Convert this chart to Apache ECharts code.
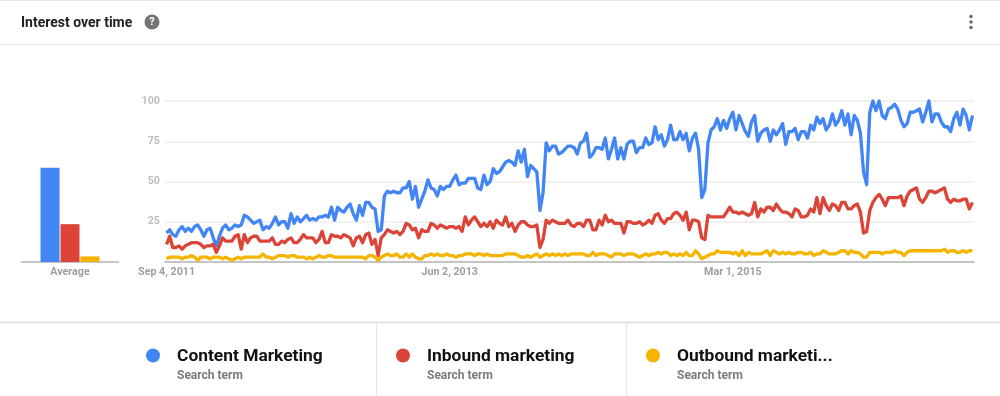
<!DOCTYPE html>
<html>
<head>
<meta charset="utf-8">
<title>Interest over time</title>
<script src="https://cdn.jsdelivr.net/npm/echarts@6/dist/echarts.min.js"></script>
<style>
  html, body { margin: 0; padding: 0; background: #fff; }
  #chart { width: 1000px; height: 396px; }
</style>
</head>
<body>
<div id="chart"></div>
<script>
// weekly values
const contentMarketing = [
  18,20,17,16,20,22,19,21,19,22,
  23,20,16,20,21,15,10,16,21,23,
  20,21,23,22,23,29,28,26,24,25,
  26,20,22,21,24,28,23,25,25,21,
  30,24,28,25,27,29,26,27,26,28,
  28,29,28,34,26,34,32,31,34,36,
  30,26,35,29,37,37,34,33,19,20,
  41,44,43,44,43,43,46,46,50,39,
  47,34,39,44,51,46,45,41,47,45,
  47,47,51,54,48,49,49,52,52,52,
  46,45,54,48,50,58,55,56,59,62,
  63,62,60,69,62,70,53,60,58,56,
  32,43,74,69,72,72,67,68,70,72,
  72,71,67,74,75,80,65,67,71,71,
  70,77,64,70,77,64,71,64,73,75,
  75,68,71,71,77,73,74,84,76,79,
  72,76,85,76,76,81,76,80,69,77,
  80,70,40,45,74,82,84,89,82,88,
  83,89,93,82,91,86,81,78,87,91,
  75,80,82,83,75,82,79,82,86,73,
  81,81,83,76,81,81,77,85,82,90,
  86,89,82,85,92,85,88,94,85,92,
  79,91,88,80,56,48,93,100,94,100,
  91,89,95,96,98,95,88,84,86,93,
  93,94,95,87,93,100,87,92,92,87,
  84,84,81,89,93,85,95,91,82,91
];
const inboundMarketing = [
  11,16,9,9,10,8,10,11,12,12,
  12,11,9,10,10,11,6,10,15,13,
  13,13,16,17,8,17,12,15,16,16,
  13,13,13,13,15,11,11,13,12,14,
  15,12,12,14,17,15,15,15,12,14,
  19,12,12,17,16,16,15,17,16,15,
  10,15,16,12,17,18,11,14,4,15,
  17,20,19,18,19,17,19,24,23,20,
  21,15,20,19,19,24,23,21,23,22,
  21,22,22,21,22,19,28,23,26,28,
  25,22,24,22,25,21,26,24,23,28,
  22,24,19,23,25,25,23,22,22,23,
  9,14,26,24,26,25,24,24,24,26,
  23,22,24,24,22,26,26,20,20,26,
  23,29,25,26,24,24,24,18,25,25,
  24,24,25,23,24,26,24,29,30,26,
  24,27,27,30,31,29,26,31,20,26,
  26,25,15,14,29,28,28,28,28,28,
  31,34,31,31,30,31,30,29,30,37,
  28,33,31,34,34,32,36,33,31,31,
  30,28,33,32,28,28,29,33,31,40,
  30,40,35,32,36,35,32,37,37,33,
  33,35,36,31,18,19,32,37,40,42,
  39,35,40,40,40,40,41,35,41,44,
  45,46,39,37,40,44,44,43,44,45,
  46,39,37,39,38,38,39,39,33,37
];
const outboundMarketing = [
  2,3,3,3,3,2,3,3,4,3,
  1,3,3,3,2,3,3,3,2,3,
  2,1,2,3,2,3,3,3,3,3,
  3,5,3,3,2,3,4,4,4,3,
  4,4,3,3,3,2,3,2,3,4,
  3,3,4,4,3,3,3,3,3,3,
  3,3,3,3,2,4,4,3,1,3,
  4,5,4,4,5,3,3,5,3,5,
  3,2,2,4,4,5,4,5,4,4,
  5,4,4,3,4,4,5,5,5,4,
  5,5,4,5,4,4,4,4,4,5,
  5,5,5,4,3,3,4,3,4,5,
  3,4,5,4,5,4,5,4,5,4,
  5,5,5,5,5,4,4,6,4,5,
  5,5,4,3,5,5,5,4,5,5,
  5,4,3,4,5,4,5,5,6,5,
  6,6,4,5,4,5,4,6,4,4,
  7,5,2,3,4,5,5,7,6,6,
  6,6,5,6,4,7,4,6,5,5,
  5,5,6,7,4,7,6,5,6,5,
  6,5,5,6,6,5,5,6,4,5,
  5,7,6,5,5,5,6,7,7,5,
  7,6,6,5,3,3,6,6,6,6,
  5,6,6,6,7,6,6,4,6,7,
  7,7,7,7,7,7,7,7,7,7,
  8,6,7,7,6,6,7,6,7,7
];
const termNames = ["Content Marketing", "Inbound marketing", "Outbound marketi..."];
const termAverages = [58.5, 23.5, 3.5];
const termColors = ["#4285f4", "#db4437", "#f4b400"];
const termSeries = [contentMarketing, inboundMarketing, outboundMarketing];
const yTicks = [25, 50, 75, 100];
const xLabelWeeks = [0, 91, 182]; // Sep 4, 2011 / Jun 2, 2013 / Mar 1, 2015

// one category per week from Sep 4, 2011
const monthNames = ["Jan","Feb","Mar","Apr","May","Jun","Jul","Aug","Sep","Oct","Nov","Dec"];
const weeks = contentMarketing.map(function(v, i) {
  let d = new Date(Date.UTC(2011, 8, 4 + i * 7));
  return monthNames[d.getUTCMonth()] + " " + d.getUTCDate() + ", " + d.getUTCFullYear();
});

const font = "Roboto";

let chart = echarts.init(document.getElementById("chart"), null, { renderer: "canvas" });

function hLine(x1, x2, y, color, width) {
  return { type: "line", silent: true, shape: { x1: x1, y1: y, x2: x2, y2: y }, style: { stroke: color, lineWidth: width } };
}
function vLine(x, y1, y2, color, width) {
  return { type: "line", silent: true, shape: { x1: x, y1: y1, x2: x, y2: y2 }, style: { stroke: color, lineWidth: width } };
}

// header and footer
let graphics = [
  hLine(0, 1000, 0.5, "#e6e6e6", 1),
  hLine(0, 1000, 44.5, "#e3e3e3", 1),
  { type: "text", style: { x: 21, y: 23, text: "Interest over time", font: "bold 14px " + font, fill: "#212121", textVerticalAlign: "middle" } },
  { type: "circle", shape: { cx: 152, cy: 22, r: 7.5 }, style: { fill: "#757575" } },
  { type: "text", style: { x: 152, y: 22.5, text: "?", font: "bold 11px " + font, fill: "#fff", textAlign: "center", textVerticalAlign: "middle" } },
  { type: "circle", shape: { cx: 971, cy: 16.5, r: 1.7 }, style: { fill: "#666" } },
  { type: "circle", shape: { cx: 971, cy: 22, r: 1.7 }, style: { fill: "#666" } },
  { type: "circle", shape: { cx: 971, cy: 27.5, r: 1.7 }, style: { fill: "#666" } },
  hLine(0, 1000, 322.5, "#dcdcdc", 1.5),
  vLine(376.5, 323, 396, "#e6e6e6", 1),
  vLine(626.5, 323, 396, "#e6e6e6", 1)
];
termNames.forEach(function(name, i) {
  let left = 153 + i * 250;
  graphics.push({ type: "circle", shape: { cx: left, cy: 355.5, r: 7 }, style: { fill: termColors[i] } });
  graphics.push({ type: "text", style: { x: left + 24, y: 356.5, text: name, font: "bold 17.4px " + font, fill: "#111", textVerticalAlign: "middle" } });
  graphics.push({ type: "text", style: { x: left + 24, y: 376, text: "Search term", font: "bold 12px " + font, fill: "#7b7b7b", textVerticalAlign: "middle" } });
});

let option = {
  animation: false,
  backgroundColor: "#fff",
  textStyle: { fontFamily: font },
  graphic: graphics,
  grid: [
    { left: 21.5, top: 101, width: 97, height: 161 },
    { left: 165, top: 101, width: 809, height: 161 }
  ],
  xAxis: [
    {
      type: "category",
      gridIndex: 0,
      data: ["Average"],
      axisTick: { show: false },
      axisLine: { lineStyle: { color: "#b5b5b5", width: 1.5 } },
      axisLabel: { color: "#9e9e9e", fontWeight: "bold", fontSize: 10.7, margin: 5, fontFamily: font }
    },
    {
      type: "category",
      gridIndex: 1,
      data: weeks,
      boundaryGap: true,
      axisTick: { show: false },
      axisLine: { lineStyle: { color: "#b5b5b5", width: 1.5 } },
      axisLabel: {
        color: "#9e9e9e",
        fontWeight: "bold",
        fontSize: 10.7,
        margin: 5,
        fontFamily: font,
        hideOverlap: false,
        interval: function(index) {
          return xLabelWeeks.indexOf(index) > -1;
        }
      }
    }
  ],
  yAxis: [
    { type: "value", gridIndex: 0, min: 0, max: 100, show: false },
    {
      type: "value",
      gridIndex: 1,
      min: 0,
      max: yTicks[yTicks.length - 1],
      interval: yTicks[0],
      axisLine: { show: false },
      axisTick: { show: false },
      splitLine: { lineStyle: { color: "#ececec", width: 1.5 } },
      axisLabel: {
        color: "#bdbdbd",
        fontWeight: "bold",
        fontSize: 10.7,
        margin: 5,
        fontFamily: font,
        showMinLabel: false
      }
    }
  ],
  series: []
};

termNames.forEach(function(name, i) {
  option.series.push({
    name: name,
    type: "bar",
    xAxisIndex: 0,
    yAxisIndex: 0,
    barWidth: 19,
    barGap: "5%",
    data: [termAverages[i]],
    itemStyle: { color: termColors[i] }
  });
  option.series.push({
    name: name,
    type: "line",
    xAxisIndex: 1,
    yAxisIndex: 1,
    data: termSeries[i],
    showSymbol: false,
    clip: false,
    lineStyle: { color: termColors[i], width: 3.3, join: "round" }
  });
});

chart.setOption(option);
</script>
</body>
</html>
